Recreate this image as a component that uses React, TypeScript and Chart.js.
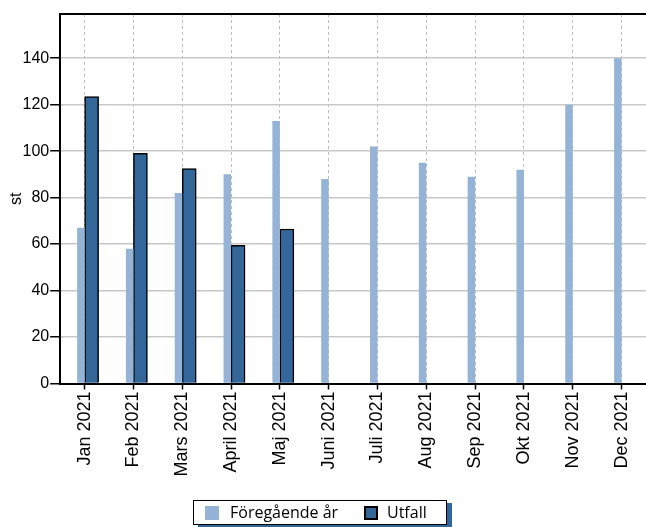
import React, { useEffect, useRef } from 'react';
import { Chart, registerables } from 'chart.js';

Chart.register(...registerables);

const categories = [
  'Jan 2021', 'Feb 2021', 'Mars 2021', 'April 2021', 'Maj 2021', 'Juni 2021',
  'Juli 2021', 'Aug 2021', 'Sep 2021', 'Okt 2021', 'Nov 2021', 'Dec 2021',
];
const previousYear = [67, 58, 82, 90, 113, 88, 102, 95, 89, 92, 120, 140];
const outcome = [123.5, 99, 92.5, 59.5, 66.5, null, null, null, null, null, null, null];
const seriesNames = ['Föregående år', 'Utfall'];
const yAxisTitle = 'st';

const LIGHT = '#95b3d7';
const DARK = '#336699';

export default function App() {
  const ref = useRef<HTMLCanvasElement | null>(null);

  useEffect(() => {
    if (!ref.current) return;
    const tickFont = { family: '"Liberation Sans", Arial, sans-serif', size: 16 };
    const xTickFont = { family: '"Liberation Sans", Arial, sans-serif', size: 18 };
    const chart = new Chart(ref.current, {
      type: 'bar',
      data: {
        labels: categories,
        datasets: [
          {
            label: seriesNames[0],
            data: previousYear,
            backgroundColor: LIGHT,
            borderWidth: 0,
            categoryPercentage: 0.307,
            barPercentage: 1,
          },
          {
            label: seriesNames[1],
            data: outcome,
            backgroundColor: DARK,
            borderColor: '#000000',
            borderWidth: 1.5,
            barThickness: 14,
          } as any,
        ],
      },
      options: {
        responsive: false,
        animation: false,
        layout: { padding: { top: 14, left: 3, right: -5, bottom: 47 } },
        plugins: {
          title: { display: false },
          tooltip: { enabled: false },
          legend: { display: false },
        },
        scales: {
          x: {
            type: 'category',
            offset: true,
            afterFit: (s: any) => {
              s.height = 96.5;
            },
            grid: {
              display: true,
              offset: false,
              color: '#bdbdbd',
              lineWidth: 1,
              drawTicks: true,
              tickLength: 6,
              tickColor: '#000000',
              tickWidth: 1.5,
              tickBorderDash: [],
            },
            border: { display: true, color: '#000000', width: 2, dash: [3, 3] },
            ticks: {
              font: xTickFont,
              color: '#000000',
              maxRotation: 90,
              minRotation: 90,
              autoSkip: false,
              padding: 2,
            },
          },
          xTop: {
            type: 'category',
            position: 'top',
            offset: true,
            grid: { display: false, drawTicks: false },
            border: { display: true, color: '#000000', width: 2 },
            ticks: { display: false },
          },
          y: {
            min: 0,
            max: 159,
            grid: {
              color: '#c8c8c8',
              lineWidth: 1.5,
              tickLength: 10,
              tickColor: '#000000',
              tickWidth: 1.5,
            },
            border: { display: true, color: '#000000', width: 2 },
            ticks: {
              stepSize: 20,
              includeBounds: false,
              font: tickFont,
              color: '#000000',
              padding: 1,
            },
            title: {
              display: true,
              text: yAxisTitle,
              font: { ...tickFont, lineHeight: 1 },
              color: '#000000',
              padding: { top: 5.5, bottom: -3 },
            },
          },
        },
      },
    } as any);
    return () => chart.destroy();
  }, []);

  const legendFont = '"Open Sans", "Noto Sans", sans-serif';

  return (
    <div style={{ position: 'absolute', left: 0, top: 0, width: 646, height: 527, background: '#ffffff', overflow: 'hidden' }}>
      <canvas ref={ref} width={646} height={527} style={{ display: 'block' }} />
      <div
        style={{
          position: 'absolute',
          left: 193,
          top: 500,
          width: 254,
          height: 25,
          boxSizing: 'border-box',
          border: '1px solid #000000',
          background: '#ffffff',
          boxShadow: `5px 3px 0 ${DARK}`,
          fontFamily: legendFont,
          fontSize: 16,
          color: '#000000',
        }}
      >
        <span style={{ position: 'absolute', left: 11, top: 5, width: 14, height: 14, background: LIGHT }} />
        <span style={{ position: 'absolute', left: 36, top: 0, lineHeight: '23px', whiteSpace: 'nowrap' }}>{seriesNames[0]}</span>
        <span
          style={{
            position: 'absolute',
            left: 170,
            top: 5,
            width: 14,
            height: 14,
            boxSizing: 'border-box',
            background: DARK,
            border: '2px solid #000000',
          }}
        />
        <span style={{ position: 'absolute', left: 193, top: 0, lineHeight: '23px', whiteSpace: 'nowrap' }}>{seriesNames[1]}</span>
      </div>
    </div>
  );
}
